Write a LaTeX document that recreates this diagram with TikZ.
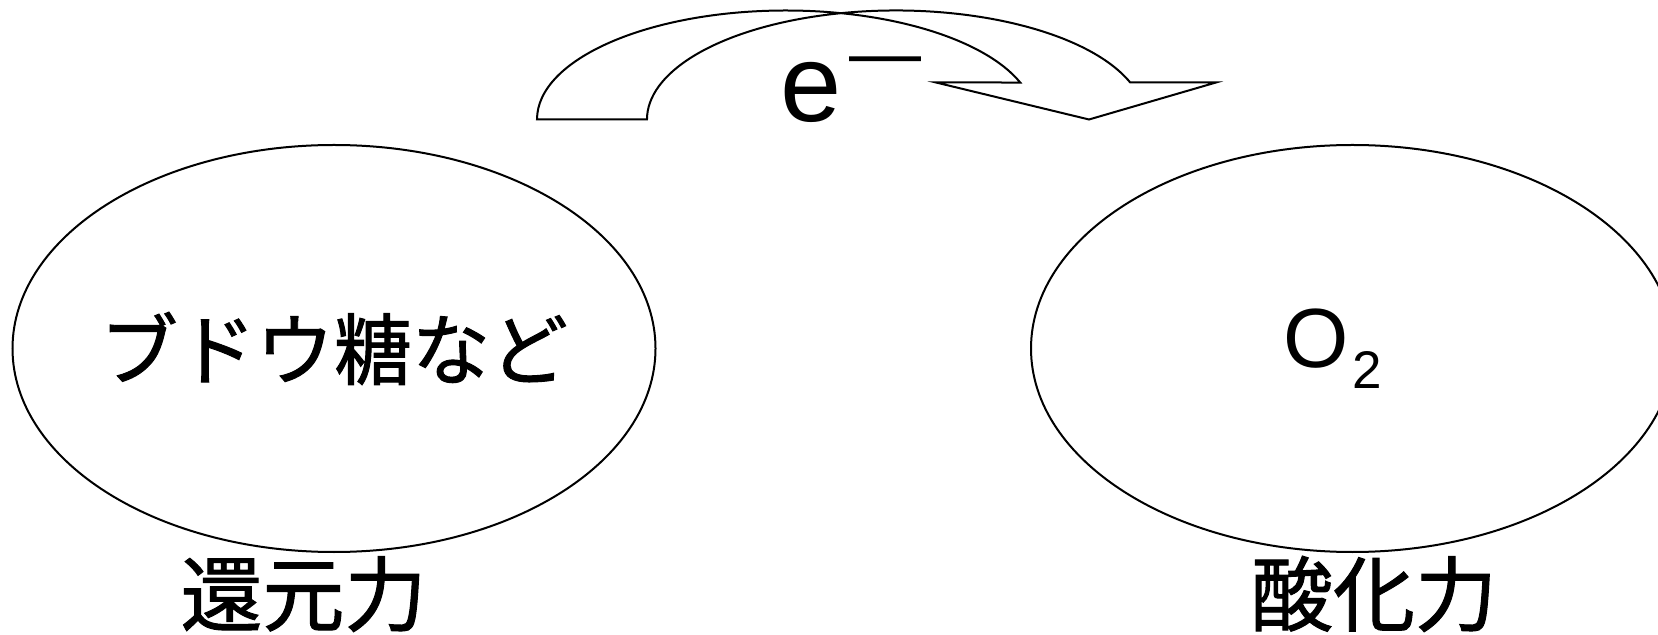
\documentclass[tikz,border=0pt]{standalone}
\usepackage{fontspec}
\setmainfont{Liberation Sans}
\newfontfamily\jpfont[FakeBold=1.2]{Noto Sans CJK JP}
\usetikzlibrary{shapes.geometric}
\tikzset{every picture/.prefix style={execute at begin picture={\rmfamily}}}

\begin{document}
\begin{tikzpicture}[x=0.5pt,y=-0.5pt,line width=1pt,
  blob/.style={draw=black,fill=white,ellipse,inner sep=0pt,minimum width=321.5pt,minimum height=203.5pt},
  jptext/.style={font=\jpfont\fontsize{39}{44}\selectfont},
  powerlab/.style={anchor=base,inner sep=0pt,font=\jpfont\fontsize{41}{46}\selectfont},
  bentarrow/.style={draw=black,fill=white,line join=miter}]
\useasboundingbox (0,0) rectangle (1658,635);
\clip (0,0) rectangle (1658,635);
% the two partners: electron donor and acceptor
\node[blob] (donor) at (334,348.5) {};
\node[jptext] (donorname) at (donor) {ブドウ糖など};
\node[blob] (acceptor) at (1352.5,348.5) {};
\node[font=\fontsize{42}{48}\selectfont] (acceptorname) at ([xshift=-10]acceptor.center)
  {O\hspace{2pt}\raisebox{-10.5pt}{\fontsize{26.5}{30}\selectfont 2}};
\node[powerlab] (reducing) at (303.5,625) {還元力};
\node[powerlab] (oxidizing) at (1374,625) {酸化力};
% the bent arrow carrying the electron
\draw[bentarrow] (537,119.5) coordinate (footout)
  arc[start angle=180,end angle=340.16,x radius=249,y radius=109] coordinate (shaftin)
  -- (936,82.5) coordinate (barbin) -- (1089,119.5) coordinate (tip)
  -- (1216,82.5) coordinate (barbout) -- (1130.2,82.5) coordinate (shaftout)
  arc[start angle=340.16,end angle=180,x radius=249,y radius=109] coordinate (footin)
  -- cycle;
\node[anchor=base west,inner sep=0pt,font=\fontsize{55}{60}\selectfont] (electron) at (779,122)
  {e\hspace{4pt}\raisebox{22pt}{\fontsize{36}{36}\selectfont —}};
\end{tikzpicture}
\end{document}
